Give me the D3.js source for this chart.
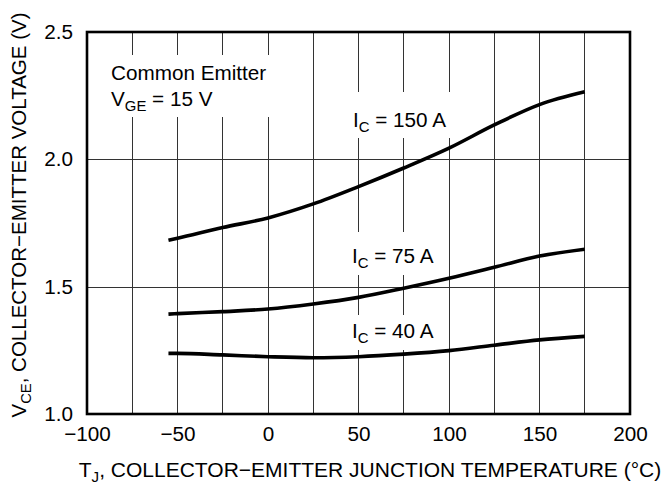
<!DOCTYPE html>
<html>
<head>
<meta charset="utf-8">
<script src="https://cdn.jsdelivr.net/npm/d3@7"></script>
<style>
  html, body { margin: 0; padding: 0; background: #fff; }
  svg text { font-family: "Liberation Sans", Arial, Helvetica, sans-serif; fill: #000; }
</style>
</head>
<body>
<svg id="chart" width="666" height="485"></svg>
<script>
// ---- data ----
const temps = [-55, -50, -25, 0, 25, 50, 75, 100, 125, 150, 175];
const ic150 = [1.682, 1.690, 1.732, 1.770, 1.825, 1.893, 1.966, 2.044, 2.135, 2.215, 2.265];
const ic75  = [1.392, 1.394, 1.402, 1.412, 1.432, 1.458, 1.494, 1.533, 1.576, 1.620, 1.647];
const ic40  = [1.238, 1.238, 1.232, 1.225, 1.221, 1.225, 1.235, 1.249, 1.270, 1.291, 1.305];
const xTicks = [-100, -50, 0, 50, 100, 150, 200];
const xGrid  = [-75, -50, -25, 0, 25, 50, 75, 100, 125, 150, 175];
const yTicks = [1.0, 1.5, 2.0, 2.5];
const yGrid  = [1.5, 2.0];
const seriesNames = ["150", "75", "40"];

// ---- layout ----
const svg = d3.select("#chart");
const L = 87, R = 630, T = 32, B = 414;
const x = d3.scaleLinear().domain([-100, 200]).range([L, R]);
const y = d3.scaleLinear().domain([1.0, 2.5]).range([B, T]);
const fs = 20.7;

// gridlines
svg.append("g").selectAll("line").data(xGrid).join("line")
  .attr("x1", d => x(d)).attr("x2", d => x(d)).attr("y1", T).attr("y2", B)
  .attr("stroke", "#333").attr("stroke-width", 1).attr("shape-rendering", "crispEdges");
svg.append("g").selectAll("line").data(yGrid).join("line")
  .attr("x1", L).attr("x2", R).attr("y1", d => Math.round(y(d)) + 0.5).attr("y2", d => Math.round(y(d)) + 0.5)
  .attr("stroke", "#333").attr("stroke-width", 1);

// white boxes behind annotations (cover gridlines)
const boxes = [
  {x0: 104, y0: 55, x1: 292, y1: 117},
  {x0: 346, y0: 92, x1: 456, y1: 138},
  {x0: 346, y0: 232, x1: 444, y1: 275},
  {x0: 346, y0: 315, x1: 444, y1: 350}
];
svg.append("g").selectAll("rect").data(boxes).join("rect")
  .attr("x", d => d.x0).attr("y", d => d.y0)
  .attr("width", d => d.x1 - d.x0).attr("height", d => d.y1 - d.y0)
  .attr("fill", "#fff");

// curves
const line = d3.line().x(d => x(d[0])).y(d => y(d[1])).curve(d3.curveMonotoneX);
[ic150, ic75, ic40].forEach(vals => {
  svg.append("path").datum(temps.map((t, i) => [t, vals[i]]))
    .attr("d", line).attr("fill", "none").attr("stroke", "#000")
    .attr("stroke-width", 3.6).attr("stroke-linecap", "butt");
});

// frame
svg.append("rect").attr("x", L).attr("y", T).attr("width", R - L).attr("height", B - T)
  .attr("fill", "none").attr("stroke", "#000").attr("stroke-width", 2.6);

// axes (labels only, via d3 axes)
const xAxis = svg.append("g").attr("transform", `translate(0,${B})`)
  .call(d3.axisBottom(x).tickValues(xTicks).tickSize(0).tickPadding(12)
    .tickFormat(d => d < 0 ? "\u2212" + Math.abs(d) : String(d)));
xAxis.select(".domain").remove();
xAxis.selectAll("text").attr("font-size", fs).attr("dy", "0.71em")
  .style("font-family", "Liberation Sans, Arial, sans-serif");

const yAxis = svg.append("g").attr("transform", `translate(${L},0)`)
  .call(d3.axisLeft(y).tickValues(yTicks).tickSize(0).tickPadding(14).tickFormat(d3.format(".1f")));
yAxis.select(".domain").remove();
yAxis.selectAll("text").attr("font-size", fs)
  .style("font-family", "Liberation Sans, Arial, sans-serif");

// helper for text with subscript
function subText(g, xPos, yPos, parts, anchor, size) {
  const s = size || fs;
  const t = g.append("text").attr("x", xPos).attr("y", yPos).attr("font-size", s)
    .attr("text-anchor", anchor || "start");
  parts.forEach(p => {
    if (p.sub) {
      t.append("tspan").text(p.t).attr("font-size", s * 0.72).attr("dy", 5);
    } else if (p.after) {
      t.append("tspan").text(p.t).attr("dy", -5);
    } else {
      t.append("tspan").text(p.t);
    }
  });
  return t;
}

// annotations
svg.append("text").attr("x", 111).attr("y", 80).attr("font-size", fs).text("Common Emitter");
subText(svg, 111, 106, [{t: "V"}, {t: "GE", sub: true}, {t: " = 15 V", after: true}]);

const labelPos = [[353, 127], [352, 263], [352, 338]];
seriesNames.forEach((n, i) => {
  subText(svg, labelPos[i][0], labelPos[i][1], [{t: "I"}, {t: "C", sub: true}, {t: " = " + n + " A", after: true}]);
});

// axis titles
subText(svg, 370, 477, [{t: "T"}, {t: "J", sub: true}, {t: ", COLLECTOR\u2212EMITTER JUNCTION TEMPERATURE (°C)", after: true}], "middle", 21);
const yt = svg.append("g").attr("transform", "translate(26,215) rotate(-90)");
subText(yt, 0, 0, [{t: "V"}, {t: "CE", sub: true}, {t: ", COLLECTOR\u2212EMITTER VOLTAGE (V)", after: true}], "middle", 20.5);
</script>
</body>
</html>
